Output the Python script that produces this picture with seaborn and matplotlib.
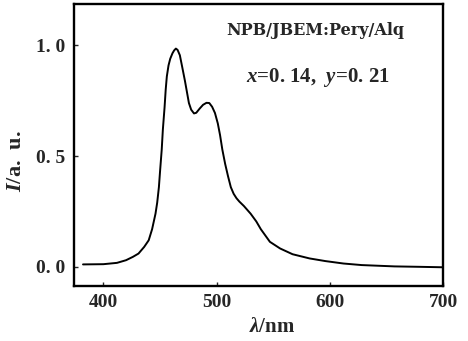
import matplotlib
matplotlib.use("Agg")
import matplotlib.pyplot as plt
import pandas as pd
import seaborn as sns

# ── Data ──────────────────────────────────────────────────────────────────────
wavelength = [382, 400, 412, 420, 426, 431, 436, 440, 443, 446, 447.5, 449,
              450, 451.5, 452.5, 454, 455, 456, 457.5, 459, 461, 462.5, 464,
              465.5, 467.5, 469.5, 472, 475.5, 477.5, 480, 482, 485, 488, 491,
              493.5, 496, 498.5, 501, 503, 505, 507.5, 510, 512.5, 515, 517.5,
              520, 524, 530, 535, 539, 547, 556, 567, 582, 596, 612, 628, 657,
              680, 700]
intensity = [0.011, 0.012, 0.018, 0.03, 0.045, 0.06, 0.09, 0.12, 0.17, 0.24,
             0.29, 0.36, 0.43, 0.53, 0.62, 0.72, 0.80, 0.86, 0.91, 0.94, 0.965,
             0.978, 0.986, 0.98, 0.956, 0.905, 0.84, 0.74, 0.71, 0.693, 0.696,
             0.715, 0.732, 0.741, 0.74, 0.723, 0.695, 0.648, 0.595, 0.53,
             0.465, 0.41, 0.36, 0.33, 0.31, 0.295, 0.275, 0.24, 0.205, 0.17,
             0.113, 0.083, 0.057, 0.038, 0.026, 0.015, 0.008, 0.002, 0.0,
             -0.002]
x_ticks = [400, 500, 600, 700]
y_ticks = [0.0, 0.5, 1.0]
y_ticklabels = ["0. 0", "0. 5", "1. 0"]

df = pd.DataFrame({"wavelength": wavelength, "intensity": intensity})

# ── Style ─────────────────────────────────────────────────────────────────────
sns.set_theme(style="ticks")
plt.rcParams["font.family"] = ["Liberation Serif", "DejaVu Serif"]
plt.rcParams["font.weight"] = "bold"
plt.rcParams["mathtext.fontset"] = "custom"
plt.rcParams["mathtext.it"] = "Liberation Serif:italic:bold"
plt.rcParams["mathtext.rm"] = "Liberation Serif:bold"

fig = plt.figure(figsize=(4.68, 3.41), dpi=100)
ax = fig.add_axes([0.158, 0.161, 0.789, 0.827])

sns.lineplot(data=df, x="wavelength", y="intensity", ax=ax,
             color="black", linewidth=1.4)

ax.set_xlim(374, 700)
ax.set_ylim(-0.087, 1.187)
ax.set_xticks(x_ticks)
ax.set_yticks(y_ticks)
ax.set_yticklabels(y_ticklabels)
ax.tick_params(direction="in", length=3, width=1, labelsize=14, pad=6)

for s in ax.spines.values():
    s.set_linewidth(1.7)
    s.set_color("black")

ax.set_xlabel(r"$\mathit{λ}$/nm", fontsize=15, fontweight="bold")
ax.set_ylabel(r"$\mathit{I}$/a.  u.", fontsize=16, fontweight="bold")
ax.xaxis.set_label_coords(0.537, -0.11)
ax.yaxis.set_label_coords(-0.13, 0.443)

ax.text(0.653, 0.905, "NPB/JBEM:Pery/Alq", transform=ax.transAxes,
        ha="center", va="center", fontsize=11.5, fontweight="bold",
        family="DejaVu Serif")
ax.text(0.66, 0.738, r"$\mathit{x}$=0. 14,  $\mathit{y}$=0. 21",
        transform=ax.transAxes, ha="center", va="center", fontsize=15,
        fontweight="bold")

fig.savefig("out.png", dpi=100)
